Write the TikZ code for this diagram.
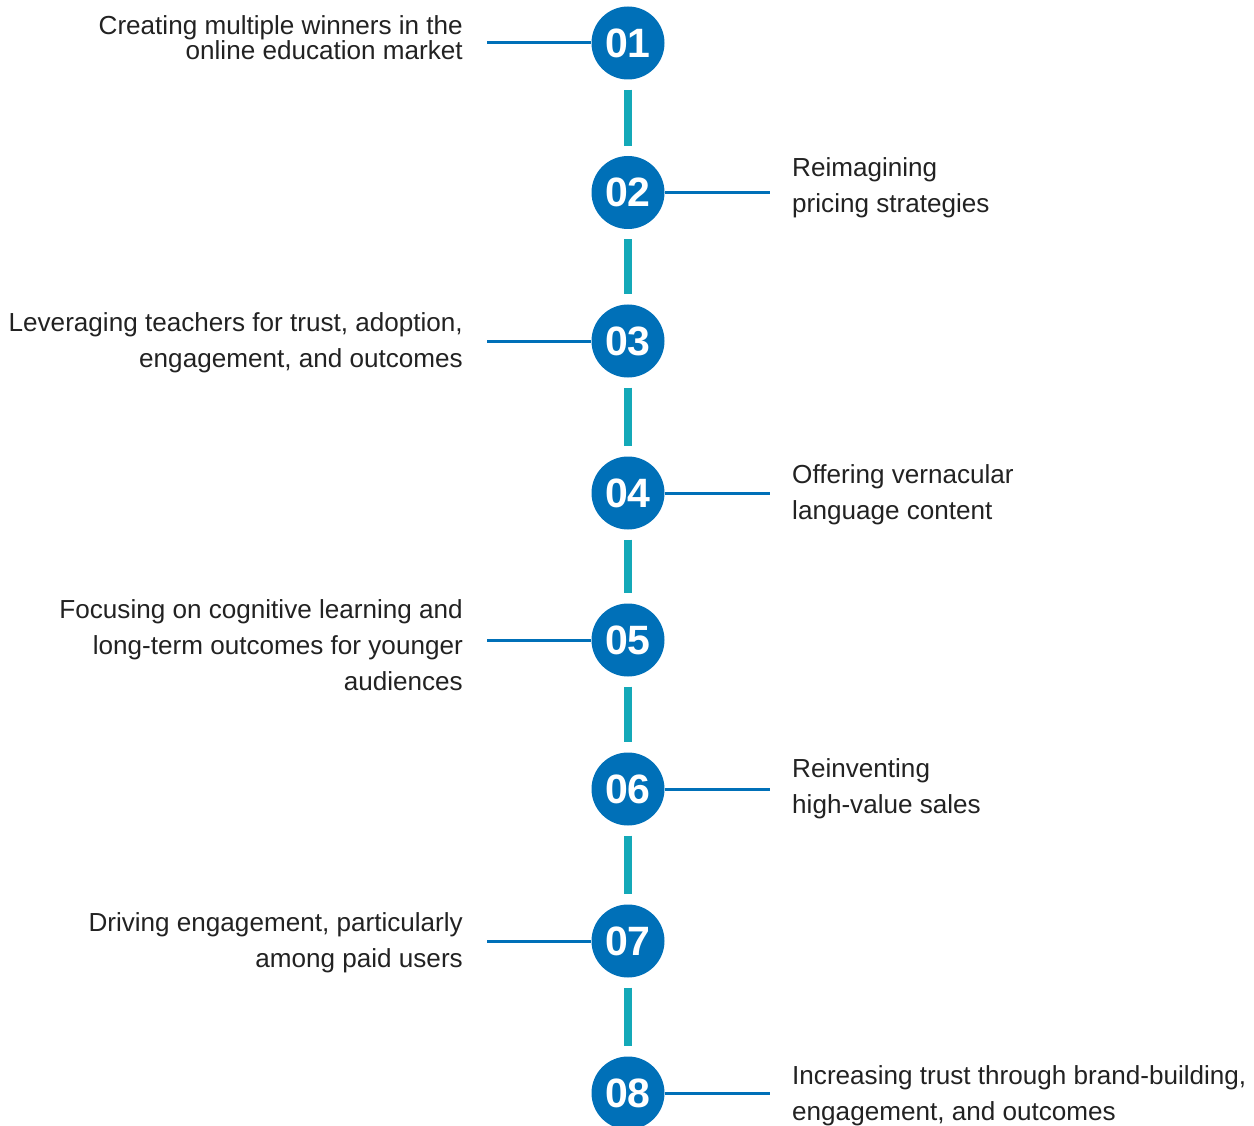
\documentclass[tikz,border=0pt]{standalone}
\usepackage{fontspec}
\setmainfont{Liberation Sans}
\definecolor{cblue}{HTML}{0070B8}
\definecolor{cteal}{HTML}{14A9B8}
\definecolor{ctext}{HTML}{222222}
\begin{document}
\begin{tikzpicture}[x=1pt,y=-1pt,
  num/.style={circle, fill=cblue, minimum size=73pt, inner sep=0pt, text=white, font=\fontsize{41}{41}\selectfont\bfseries},
  lbl/.style={text=ctext, font=\fontsize{26.1}{36}\selectfont, inner sep=0pt},
  lblL/.style={lbl, anchor=east, align=right},
  lblR/.style={lbl, anchor=west, align=left},
  conn/.style={cblue, line width=3pt},
  spine/.style={cteal, line width=8pt, shorten >=10pt, shorten <=10pt}]
\useasboundingbox (0,0) rectangle (1254,1126);
% circles
\node[num] (c1) at (628,43) {01};
\node[num] (c2) at (628,192.5) {02};
\node[num] (c3) at (628,341) {03};
\node[num] (c4) at (628,493) {04};
\node[num] (c5) at (628,640) {05};
\node[num] (c6) at (628,789) {06};
\node[num] (c7) at (628,941) {07};
\node[num] (c8) at (628,1093) {08};
% spine
\draw[spine] (c1) -- (c2);
\draw[spine] (c2) -- (c3);
\draw[spine] (c3) -- (c4);
\draw[spine] (c4) -- (c5);
\draw[spine] (c5) -- (c6);
\draw[spine] (c6) -- (c7);
\draw[spine] (c7) -- (c8);
% labels
\node[lblL, font=\fontsize{26.1}{25}\selectfont] (t1) at (463,38) {Creating multiple winners in the\\online education market};
\node[lblR] (t2) at (792,188) {Reimagining\\pricing strategies};
\node[lblL] (t3) at (463,343) {Leveraging teachers for trust, adoption,\\engagement, and outcomes};
\node[lblR] (t4) at (792,495) {Offering vernacular\\language content};
\node[lblL] (t5) at (463,645) {Focusing on cognitive learning and\\long-term outcomes for younger\\audiences};
\node[lblR] (t6) at (792,789) {Reinventing\\high-value sales};
\node[lblL] (t7) at (463,943) {Driving engagement, particularly\\among paid users};
\node[lblR] (t8) at (792,1096) {Increasing trust through brand-building,\\engagement, and outcomes};
% connector ends
\coordinate (e1) at (487,43);
\coordinate (e2) at (770,192.5);
\coordinate (e3) at (487,341);
\coordinate (e4) at (770,493);
\coordinate (e5) at (487,640);
\coordinate (e6) at (770,789);
\coordinate (e7) at (487,941);
\coordinate (e8) at (770,1093);
\draw[conn] (e1) -- (c1);
\draw[conn] (c2) -- (e2);
\draw[conn] (e3) -- (c3);
\draw[conn] (c4) -- (e4);
\draw[conn] (e5) -- (c5);
\draw[conn] (c6) -- (e6);
\draw[conn] (e7) -- (c7);
\draw[conn] (c8) -- (e8);
\end{tikzpicture}
\end{document}
